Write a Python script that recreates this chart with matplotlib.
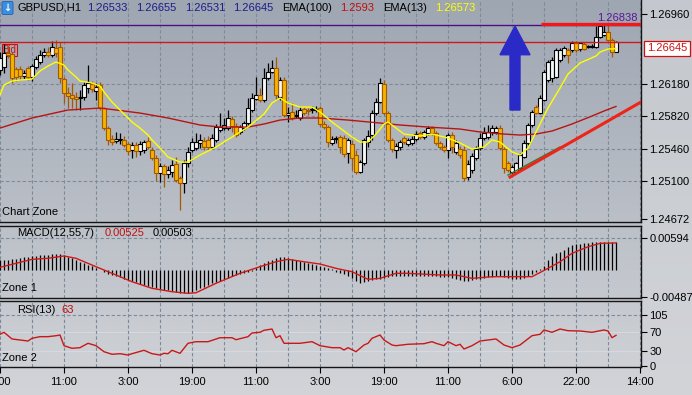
import numpy as np
import matplotlib
matplotlib.use("Agg")
import matplotlib.pyplot as plt
from matplotlib.patches import FancyArrow
from matplotlib.transforms import blended_transform_factory

plt.rcParams["font.family"] = ["Liberation Sans", "DejaVu Sans"]

W, H = 692, 395

# ---- GBPUSD H1 candles ----
opens = [1.26336, 1.26369, 1.26525, 1.26514, 1.26347, 1.26347, 1.26269, 1.26358, 1.26258, 1.26369,
         1.26425, 1.26503, 1.26536, 1.26503, 1.26581, 1.26592, 1.26235, 1.26079, 1.26057, 1.26035,
         1.26024, 1.26035, 1.26135, 1.26180, 1.26102, 1.26169, 1.25912, 1.25689, 1.25567, 1.25544,
         1.25556, 1.25556, 1.25511, 1.25444, 1.25500, 1.25433, 1.25444, 1.25544, 1.25444, 1.25355,
         1.25188, 1.25266, 1.25177, 1.25199, 1.25288, 1.25132, 1.25076, 1.25299, 1.25444, 1.25466,
         1.25522, 1.25544, 1.25556, 1.25478, 1.25556, 1.25667, 1.25689, 1.25689, 1.25790, 1.25712,
         1.25645, 1.25689, 1.25745, 1.25890, 1.26013, 1.26057, 1.26001, 1.26247, 1.26314, 1.26358,
         1.26035, 1.26224, 1.25834, 1.25868, 1.25823, 1.25801, 1.25901, 1.25890, 1.25890, 1.25890,
         1.25912, 1.25734, 1.25700, 1.25522, 1.25567, 1.25589, 1.25578, 1.25411, 1.25511, 1.25388,
         1.25199, 1.25299, 1.25533, 1.25611, 1.25856, 1.25979, 1.26180, 1.25856, 1.25556, 1.25444,
         1.25478, 1.25578, 1.25511, 1.25522, 1.25567, 1.25634, 1.25589, 1.25634, 1.25689, 1.25634,
         1.25522, 1.25478, 1.25444, 1.25611, 1.25422, 1.25455, 1.25444, 1.25143, 1.25221, 1.25355,
         1.25466, 1.25578, 1.25589, 1.25645, 1.25645, 1.25689, 1.25455, 1.25299, 1.25199, 1.25199,
         1.25243, 1.25366, 1.25522, 1.25723, 1.25923, 1.25856, 1.26001, 1.26224, 1.26247, 1.26258,
         1.26447, 1.26503, 1.26559, 1.26559, 1.26637, 1.26570, 1.26626, 1.26592, 1.26592, 1.26592,
         1.26704, 1.26726, 1.26759, 1.26670, 1.26533]
highs = [1.26536, 1.26626, 1.26614, 1.26536, 1.26369, 1.26380, 1.26336, 1.26380, 1.26403, 1.26492,
         1.26559, 1.26581, 1.26592, 1.26659, 1.26670, 1.26648, 1.26258, 1.26146, 1.26191, 1.26091,
         1.26113, 1.26202, 1.26392, 1.26213, 1.26191, 1.26202, 1.25923, 1.25712, 1.25611, 1.25645,
         1.25634, 1.25600, 1.25533, 1.25533, 1.25533, 1.25544, 1.25556, 1.25589, 1.25478, 1.25388,
         1.25299, 1.25288, 1.25266, 1.25333, 1.25366, 1.25154, 1.25333, 1.25478, 1.25578, 1.25634,
         1.25622, 1.25589, 1.25600, 1.25622, 1.25734, 1.25856, 1.25801, 1.25890, 1.25823, 1.25745,
         1.25723, 1.25767, 1.26024, 1.26079, 1.26258, 1.26135, 1.26358, 1.26414, 1.26447, 1.26481,
         1.26258, 1.26258, 1.25923, 1.25968, 1.25890, 1.25923, 1.25923, 1.25912, 1.25935, 1.25935,
         1.25935, 1.25767, 1.25723, 1.25600, 1.25600, 1.25611, 1.25611, 1.25578, 1.25556, 1.25444,
         1.25333, 1.25578, 1.25667, 1.25890, 1.26024, 1.26247, 1.26224, 1.25879, 1.25578, 1.25522,
         1.25556, 1.25600, 1.25578, 1.25600, 1.25656, 1.25656, 1.25667, 1.25712, 1.25712, 1.25656,
         1.25544, 1.25500, 1.25634, 1.25645, 1.25556, 1.25489, 1.25489, 1.25333, 1.25411, 1.25489,
         1.25634, 1.25700, 1.25723, 1.25723, 1.25712, 1.25723, 1.25478, 1.25321, 1.25277, 1.25310,
         1.25411, 1.25556, 1.25745, 1.25890, 1.25946, 1.26057, 1.26336, 1.26447, 1.26481, 1.26581,
         1.26581, 1.26603, 1.26581, 1.26659, 1.26659, 1.26648, 1.26648, 1.26614, 1.26626, 1.26826,
         1.26838, 1.26837, 1.26837, 1.26692, 1.26655]
lows = [1.26280, 1.26302, 1.26470, 1.26191, 1.26213, 1.26224, 1.26235, 1.26224, 1.26213, 1.26347,
        1.26403, 1.26481, 1.26481, 1.26481, 1.26481, 1.26191, 1.25968, 1.25912, 1.25912, 1.25890,
        1.25890, 1.26001, 1.26079, 1.26091, 1.26001, 1.25890, 1.25667, 1.25500, 1.25500, 1.25522,
        1.25511, 1.25478, 1.25388, 1.25355, 1.25366, 1.25388, 1.25411, 1.25455, 1.25333, 1.25099,
        1.25087, 1.25032, 1.25132, 1.25143, 1.25087, 1.24775, 1.24965, 1.25255, 1.25422, 1.25444,
        1.25466, 1.25444, 1.25444, 1.25455, 1.25533, 1.25645, 1.25667, 1.25667, 1.25645, 1.25589,
        1.25622, 1.25667, 1.25723, 1.25868, 1.26001, 1.25979, 1.25979, 1.26224, 1.26302, 1.26001,
        1.26001, 1.25812, 1.25756, 1.25778, 1.25801, 1.25778, 1.25834, 1.25834, 1.25856, 1.25868,
        1.25712, 1.25678, 1.25478, 1.25500, 1.25522, 1.25411, 1.25366, 1.25299, 1.25221, 1.25177,
        1.25188, 1.25277, 1.25478, 1.25556, 1.25834, 1.25968, 1.25834, 1.25533, 1.25422, 1.25355,
        1.25444, 1.25511, 1.25489, 1.25500, 1.25544, 1.25567, 1.25567, 1.25611, 1.25611, 1.25500,
        1.25455, 1.25422, 1.25355, 1.25411, 1.25400, 1.25355, 1.25099, 1.25110, 1.25188, 1.25333,
        1.25444, 1.25556, 1.25567, 1.25611, 1.25622, 1.25444, 1.25188, 1.25199, 1.25177, 1.25188,
        1.25221, 1.25355, 1.25500, 1.25700, 1.25845, 1.25845, 1.25990, 1.26202, 1.26202, 1.26247,
        1.26425, 1.26481, 1.26414, 1.26536, 1.26536, 1.26548, 1.26559, 1.26581, 1.26581, 1.26581,
        1.26692, 1.26715, 1.26659, 1.26481, 1.26531]
closes = [1.26470, 1.26525, 1.26503, 1.26247, 1.26258, 1.26269, 1.26302, 1.26258, 1.26380, 1.26458,
          1.26503, 1.26536, 1.26503, 1.26592, 1.26525, 1.26247, 1.26079, 1.26046, 1.26024, 1.26013,
          1.26035, 1.26169, 1.26191, 1.26124, 1.26146, 1.25912, 1.25689, 1.25556, 1.25533, 1.25567,
          1.25567, 1.25500, 1.25433, 1.25500, 1.25433, 1.25511, 1.25533, 1.25478, 1.25355, 1.25188,
          1.25266, 1.25177, 1.25221, 1.25277, 1.25110, 1.25076, 1.25299, 1.25422, 1.25533, 1.25533,
          1.25556, 1.25478, 1.25478, 1.25578, 1.25700, 1.25700, 1.25723, 1.25801, 1.25712, 1.25611,
          1.25700, 1.25745, 1.25912, 1.26024, 1.26057, 1.26001, 1.26247, 1.26314, 1.26358, 1.26057,
          1.26224, 1.25834, 1.25856, 1.25801, 1.25834, 1.25890, 1.25856, 1.25879, 1.25901, 1.25901,
          1.25734, 1.25700, 1.25533, 1.25567, 1.25578, 1.25478, 1.25400, 1.25556, 1.25355, 1.25199,
          1.25310, 1.25556, 1.25600, 1.25856, 1.25979, 1.26191, 1.25856, 1.25556, 1.25455, 1.25489,
          1.25533, 1.25533, 1.25556, 1.25567, 1.25622, 1.25589, 1.25645, 1.25689, 1.25634, 1.25522,
          1.25478, 1.25444, 1.25611, 1.25478, 1.25522, 1.25388, 1.25132, 1.25288, 1.25377, 1.25455,
          1.25578, 1.25634, 1.25645, 1.25689, 1.25689, 1.25466, 1.25243, 1.25221, 1.25255, 1.25299,
          1.25388, 1.25522, 1.25723, 1.25868, 1.25856, 1.26024, 1.26314, 1.26425, 1.26447, 1.26559,
          1.26559, 1.26581, 1.26503, 1.26637, 1.26559, 1.26637, 1.26570, 1.26603, 1.26603, 1.26704,
          1.26826, 1.26759, 1.26670, 1.26536, 1.26645]

# EMA(13) and EMA(100), read at bar indices
ema13_idx = [0, 1, 3, 5, 8, 10, 12, 14, 16, 17, 19, 20, 23, 25, 26, 28, 29, 31, 33, 35, 37, 38, 40,
             42, 45, 47, 50, 54, 58, 62, 66, 68, 70, 72, 75, 78, 80, 83, 85, 88, 90, 92, 94, 96, 97,
             98, 101, 105, 108, 112, 115, 118, 121, 123, 125, 128, 130, 132, 134, 137, 140, 142,
             145, 149, 150, 152, 154]
ema13 = [1.26057, 1.26169, 1.26213, 1.26224, 1.26235, 1.26325, 1.26380, 1.26425, 1.26392, 1.26336,
         1.26258, 1.26213, 1.26191, 1.26157, 1.26091, 1.25979, 1.25935, 1.25845, 1.25756, 1.25689,
         1.25611, 1.25556, 1.25466, 1.25366, 1.25310, 1.25310, 1.25388, 1.25478, 1.25589, 1.25700,
         1.25845, 1.25968, 1.26024, 1.25968, 1.25923, 1.25923, 1.25868, 1.25756, 1.25689, 1.25589,
         1.25533, 1.25533, 1.25622, 1.25734, 1.25756, 1.25723, 1.25622, 1.25600, 1.25622, 1.25578,
         1.25522, 1.25455, 1.25478, 1.25556, 1.25533, 1.25422, 1.25388, 1.25466, 1.25645, 1.25912,
         1.26135, 1.26291, 1.26414, 1.26492, 1.26536, 1.26570, 1.26573]
ema100_idx = [0, 8, 17, 25, 29, 35, 42, 50, 55, 62, 66, 70, 75, 80, 87, 95, 100, 107, 115, 120,
              126, 130, 134, 138, 143, 148, 151, 154]
ema100 = [1.25689, 1.25801, 1.25890, 1.25912, 1.25890, 1.25856, 1.25801, 1.25723, 1.25700, 1.25700,
          1.25734, 1.25778, 1.25801, 1.25801, 1.25778, 1.25745, 1.25723, 1.25700, 1.25678, 1.25645,
          1.25622, 1.25611, 1.25622, 1.25656, 1.25734, 1.25823, 1.25879, 1.25930]

# MACD(12,55,7) in points (1e-5)
macd_hist_pts = [190, 190, 195, 205, 215, 227, 240, 255, 264, 270, 280, 284, 288, 292, 298, 295, 275,
                 250, 220, 190, 160, 130, 100, 75, 40, 5, -30, -60, -82, -100, -125, -150, -175, -200,
                 -220, -243, -265, -290, -305, -320, -335, -350, -362, -378, -395, -410, -420, -412,
                 -392, -365, -330, -295, -265, -235, -210, -185, -160, -135, -110, -90, -70, -50, -30,
                 -5, 45, 95, 135, 170, 200, 230, 240, 238, 230, 218, 200, 180, 160, 140, 120, 100, 80,
                 60, 40, 20, -20, -48, -70, -95, -140, -185, -225, -215, -195, -178, -165, -150, -135,
                 -118, -110, -108, -100, -98, -96, -98, -100, -98, -96, -100, -105, -110, -112, -115,
                 -125, -145, -165, -180, -194, -190, -180, -165, -150, -135, -120, -112, -110, -108,
                 -115, -135, -155, -163, -160, -135, -100, -60, -20, 20, 90, 200, 270, 315, 343, 380,
                 425, 460, 478, 492, 503, 510, 516, 520, 526, 526, 526, 525, 525]
macd_sig_idx = [0, 4, 8, 12, 16, 19, 24, 28, 33, 38, 43, 47, 49, 54, 60, 65, 69, 72, 76, 80, 84, 88,
                92, 95, 99, 102, 110, 114, 118, 123, 133, 137, 140, 143, 147, 150, 154]
macd_sig_pts = [57, 130, 203, 222, 264, 222, 68, -53, -207, -328, -390, -420, -409, -236, -53, 68,
                159, 203, 159, 117, 38, -24, -163, -145, -53, -53, -84, -84, -145, -115, -115, 38,
                159, 313, 434, 496, 503]

# RSI(13)
rsi_idx = [0, 1, 3, 5, 7, 8, 10, 12, 14, 15, 16, 18, 20, 22, 24, 26, 28, 30, 32, 33, 36, 38, 40, 41,
           42, 43, 45, 47, 49, 52, 55, 58, 59, 62, 63, 65, 66, 68, 69, 70, 71, 75, 78, 80, 83, 85,
           86, 87, 89, 91, 92, 93, 95, 96, 98, 99, 102, 106, 108, 109, 111, 112, 114, 115, 116, 118,
           120, 122, 124, 126, 128, 130, 133, 135, 136, 138, 140, 142, 145, 148, 151, 152, 153, 154]
rsi = [65.2, 69.3, 55.6, 53.5, 51.4, 57.0, 60.3, 60.3, 62.3, 63.8, 41.8, 36.4, 37.7, 46.7, 41.8,
       29.4, 24.1, 25.3, 22.6, 25.3, 32.3, 25.3, 22.6, 26.1, 25.3, 32.3, 26.1, 46.7, 50.0, 50.0,
       58.2, 58.2, 54.1, 60.3, 67.9, 69.3, 73.5, 76.1, 58.2, 62.3, 46.7, 46.7, 50.0, 41.8, 37.7,
       37.7, 32.9, 37.7, 29.4, 43.2, 46.7, 57.0, 63.8, 53.5, 43.2, 41.8, 44.7, 45.9, 50.0, 46.7,
       41.8, 50.0, 41.8, 44.7, 35.0, 41.8, 51.4, 53.5, 55.6, 43.2, 37.7, 43.2, 62.3, 65.2, 74.1,
       69.3, 76.1, 72.6, 72.0, 69.3, 74.1, 72.0, 58.2, 63.0]

# axis labels / levels
price_ticks = [1.26960, 1.26180, 1.25820, 1.25460, 1.25100, 1.24672]
price_grid = [1.26180, 1.25820, 1.25460, 1.25100]
time_labels = ["3:00", "11:00", "3:00", "19:00", "11:00", "3:00", "19:00", "11:00", "6:00", "22:00", "14:00"]
bid = 1.26645
day_high = 1.26838
header_prices = ["1.26533", "1.26655", "1.26531", "1.26645"]
# trend line + arrow drawn by hand on the chart
trend_x = [127.5, 160.25]
trend_y = [1.25143, 1.25979]
trend2_x = [127.0, 140.0]
trend2_y = [1.25165, 1.25478]
arrow_x, arrow_base, arrow_tip = 128.75, 1.25890, 1.26826


def fx(px):
    return px / W


def fy(py):
    return 1 - py / H


fig = plt.figure(figsize=(W / 100, H / 100), dpi=100)

# background gradient
bg = fig.add_axes([0, 0, 1, 1])
bg.set_axis_off()
t = np.linspace(0, 1, H)[:, None, None]
top = np.array([158, 166, 178]) / 255
bot = np.array([210, 212, 216]) / 255
grad = np.repeat(top * (1 - t) + bot * t, W, axis=1)
rtop = np.array([196, 200, 206]) / 255
grad[:, 642:, :] = rtop * (1 - t) + bot * t
bg.imshow(grad, aspect="auto", extent=[0, 1, 0, 1])
bg.set_xlim(0, 1); bg.set_ylim(0, 1)

XR = (0, 160.25)
GRIDC = "#7c8a9a"
DASH = (0, (3, 2))


def frame(a):
    a.set_facecolor("none")
    a.set_xlim(*XR)
    a.spines["left"].set_visible(False)
    for s in ("top", "bottom", "right"):
        a.spines[s].set_color("#151515")
        a.spines[s].set_linewidth(1.0)
    a.yaxis.tick_right()
    a.tick_params(axis="y", direction="out", length=4, width=0.8, labelsize=8, pad=2, colors="black")
    a.set_xticks(np.arange(0, 161, 8))
    a.grid(axis="x", color=GRIDC, ls=DASH, lw=0.8)
    a.set_axisbelow(True)


# ---------------- main price panel ----------------
ax = fig.add_axes([0, fy(222), fx(641), 222 / H])
frame(ax)
ax.spines["top"].set_visible(False)
ax.tick_params(axis="x", length=0, labelbottom=False)
ax.set_ylim(1.24642, 1.27116)
ax.set_yticks(price_ticks)
ax.set_yticklabels([f"{v:.5f}" for v in price_ticks])
for g in price_grid:
    ax.axhline(g, color=GRIDC, ls=DASH, lw=0.8, zorder=0.5)

o = np.array(opens); h = np.array(highs); l = np.array(lows); c = np.array(closes)
idx = np.arange(len(c))
up = c >= o
ax.text(0.6, 1.26559, "Bid", color="#d01010", fontsize=7, va="center", zorder=1,
        bbox=dict(fc="none", ec="#d01010", lw=0.8, pad=0.5))
ax.vlines(idx[up], l[up], h[up], color="black", lw=0.9, zorder=2)
ax.vlines(idx[~up], l[~up], h[~up], color="#a65800", lw=0.9, zorder=2)
ax.bar(idx[up], c[up] - o[up], bottom=o[up], width=0.8, color="#f4f7f8",
       edgecolor="black", lw=0.8, zorder=3)
ax.bar(idx[~up], o[~up] - c[~up], bottom=c[~up], width=0.8, color="#f2b400",
       edgecolor="#a65800", lw=0.8, zorder=3)

ax.plot(ema100_idx, ema100, color="#b81414", lw=1.0, zorder=4)
ax.plot(ema13_idx, ema13, color="#ffff00", lw=1.0, zorder=4)

ax.axhline(bid, color="#d01818", lw=1.0, zorder=4)
ax.axhline(day_high, color="#4a108c", lw=1.0, zorder=4)
ax.plot([135.3, XR[1]], [day_high + 0.00006, day_high + 0.00006], color="#f01818", lw=2.4,
        solid_capstyle="butt", zorder=5)
ax.text(159.4, day_high + 0.0002, f"{day_high:.5f}", color="#5a189a", fontsize=8,
        ha="right", va="bottom", zorder=5)
ax.plot(trend2_x, trend2_y, color="#2e7d32", lw=1.0, zorder=5)
ax.plot(trend_x, trend_y, color="#ee2418", lw=2.2, zorder=6)
ax.add_patch(FancyArrow(arrow_x, arrow_base, 0, arrow_tip - arrow_base, width=2.5, head_width=7.5,
                        head_length=0.0032, length_includes_head=True, color="#2a2ac6", zorder=6))

tr = blended_transform_factory(ax.transAxes, ax.transData)
ax.text(1.009, bid - 0.00012, f"{bid:.5f}", transform=tr, color="#d01010", fontsize=8,
        ha="left", va="top", zorder=7, clip_on=False,
        bbox=dict(fc="white", ec="#d01010", lw=0.9, boxstyle="square,pad=0.25"))

# ---------------- MACD panel ----------------
am = fig.add_axes([0, fy(298), fx(641), 72 / H])
frame(am)
am.tick_params(axis="x", length=0, labelbottom=False)
am.set_ylim(-0.005053, 0.008138)
am.set_yticks([0.00594, -0.00487])
am.set_yticklabels(["0.00594", "-0.00487"])
am.axhline(0.00594, color=GRIDC, ls=DASH, lw=0.8, zorder=0.5)
am.vlines(idx, 0, np.array(macd_hist_pts) * 1e-5, color="black", lw=0.9, zorder=2)
am.plot(macd_sig_idx, np.array(macd_sig_pts) * 1e-5, color="#d01818", lw=1.0, zorder=3)

# ---------------- RSI panel ----------------
ar = fig.add_axes([0, fy(367), fx(641), 66 / H])
frame(ar)
ar.set_ylim(-2.06, 133.7)
ar.set_yticks([105, 70, 30, 0])
ar.set_yticklabels(["105", "70", "30", "0"])
ar.axhline(105, color=GRIDC, ls=DASH, lw=0.8, zorder=0.5)
ar.axhline(70, color="#d6d9de", lw=0.8, zorder=0.5)
ar.axhline(30, color="#d6d9de", lw=0.8, zorder=0.5)
ar.plot(rsi_idx, rsi, color="#c81818", lw=1.0, zorder=3)
ar.set_xticks(np.arange(0, 161, 8))
ar.set_xticklabels([time_labels[i // 2] if i % 2 == 0 else "" for i in range(21)])
ar.tick_params(axis="x", direction="out", length=4, width=0.8, labelsize=8, pad=3)
for i, tk in enumerate(ar.xaxis.get_major_ticks()):
    if i % 2:
        tk.tick1line.set_visible(False)

# ---------------- header / zone texts ----------------
fs = 8
fig.text(fx(7.5), fy(8), "\u2193", color="white", fontsize=7, fontweight="bold", family="DejaVu Sans",
         ha="center", va="center", bbox=dict(boxstyle="round,pad=0.15", fc="#3b8fe0", ec="#1f5fb0", lw=0.6))
fig.text(fx(17), fy(8), "GBPUSD,H1", fontsize=fs, va="center")
for xp, s in zip([87, 136, 185, 233], header_prices):
    fig.text(fx(xp), fy(8), s, fontsize=fs, va="center", color="#1c1c8e")
fig.text(fx(282), fy(8), "EMA(100)", fontsize=fs, va="center")
fig.text(fx(340), fy(8), "1.2593", fontsize=fs, va="center", color="#c01010")
fig.text(fx(383), fy(8), "EMA(13)", fontsize=fs, va="center")
fig.text(fx(435), fy(8), "1.26573", fontsize=fs, va="center", color="#ffff00")

fig.text(fx(2), fy(212), "Chart Zone", fontsize=fs, va="center")
fig.text(fx(17), fy(233), "MACD(12,55,7)", fontsize=fs, va="center")
fig.text(fx(105), fy(233), "0.00525", fontsize=fs, va="center", color="#c01010")
fig.text(fx(153), fy(233), "0.00503", fontsize=fs, va="center")
fig.text(fx(2), fy(288), "Zone 1", fontsize=fs, va="center")
fig.text(fx(17), fy(310), "RSI(13)", fontsize=fs, va="center")
fig.text(fx(61), fy(310), "63", fontsize=fs, va="center", color="#c01010")
fig.text(fx(2), fy(358), "Zone 2", fontsize=fs, va="center")

fig.savefig("out.png", dpi=100)
